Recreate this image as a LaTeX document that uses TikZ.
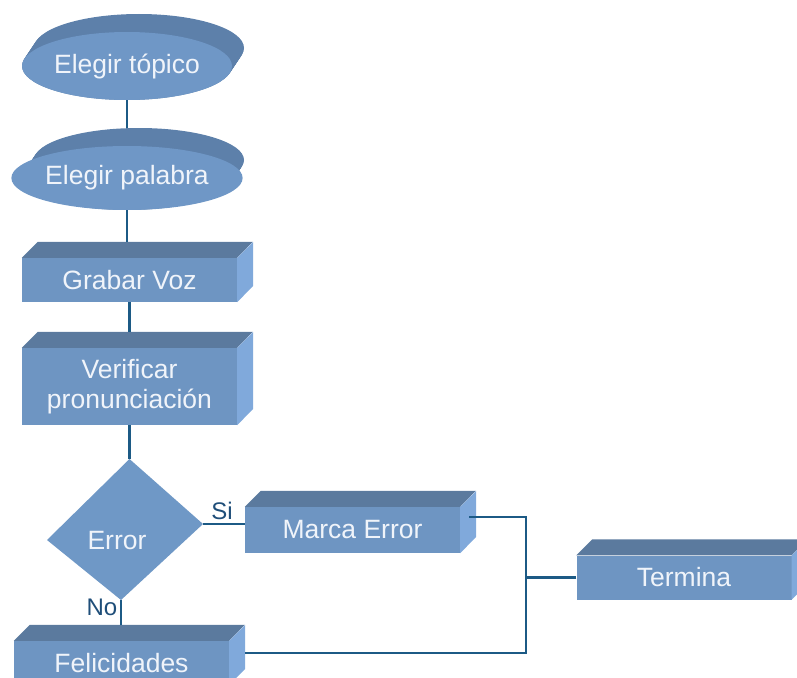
\documentclass[tikz,border=0pt]{standalone}
\usepackage{fontspec}
\setmainfont{Liberation Sans}
\usetikzlibrary{calc,shapes.geometric}
\definecolor{front}{HTML}{6E95C2}
\definecolor{topc}{HTML}{5B7A9E}
\definecolor{sidec}{HTML}{80A9DB}
\definecolor{efront}{HTML}{6F97C6}
\definecolor{erim}{HTML}{5D80AA}
\definecolor{dfill}{HTML}{6F98C6}
\definecolor{txt}{HTML}{F0F4FA}
\definecolor{connc}{HTML}{1C5A85}
\definecolor{labc}{HTML}{1F4E79}
\newcommand{\cubefaces}[2]{%
  \fill[topc] (#1.north west) -- ++(16,-16) -- ++(215,0) -- (#1.north east) -- cycle;
  \fill[sidec] (#1.north east) -- ++(16,-16) -- ++(0,#2) -- (#1.south east) -- cycle;}
\begin{document}
\begin{tikzpicture}[x=1pt,y=-1pt,
  lbl/.style={text=txt, font=\fontsize{26.5}{30}\selectfont, align=center},
  box/.style={rectangle, fill=front, minimum width=215pt, inner sep=0pt, lbl},
  ell/.style={ellipse, fill=efront, minimum width=210pt, inner sep=0pt, lbl},
  conn/.style={draw=connc, line width=2.5pt},
  yn/.style={text=labc, font=\fontsize{24}{24}\selectfont, inner sep=0pt}]
\useasboundingbox (0,0) rectangle (797,677);
\clip (0,0) rectangle (797,677);
% ellipses (extruded)
\foreach \k in {0,...,18} \fill[erim] ({127+0.667*\k},{66-\k}) ellipse [x radius=105, y radius=34];
\node[ell, minimum height=68pt] (e1) at (127,66) {Elegir tópico};
\foreach \k in {0,...,18} \fill[erim] ({127+0.667*\k},{178-\k}) ellipse [x radius=105, y radius=32];
\node[ell, minimum height=64pt] (e2) at (127,178) {Elegir palabra};
% boxes
\node[box, minimum height=44pt] (grabar) at (129.5,280) {Grabar Voz};
\cubefaces{grabar}{44}
\node[box, minimum height=77pt] (verif) at (129.5,386.5) {Verificar\\pronunciación};
\cubefaces{verif}{77}
\node[box, minimum height=46pt] (marca) at (352.5,530) {Marca Error};
\cubefaces{marca}{46}
\node[box, minimum height=44pt] (termina) at (684,577.5) {Termina};
\cubefaces{termina}{44}
\node[box, minimum height=44pt] (felic) at (121.5,663) {Felicidades};
\cubefaces{felic}{44}
% diamond
\coordinate (dT) at (129.5,459);
\coordinate (dR) at (203,524);
\coordinate (dB) at (121,600);
\coordinate (dL) at (47,540);
\fill[dfill] (dT) -- (dR) -- (dB) -- (dL) -- cycle;
\node[lbl] (error) at (117,541) {Error};
% helper coordinates
\coordinate (e2top) at (139,128);
\coordinate (gtop) at ($(grabar.north)+(0,-16)$);
\coordinate (vtop) at ($(verif.north)+(0,-16)$);
\coordinate (ftop) at ($(felic.north)+(0,-16)$);
\coordinate (ms) at ($(marca.east)+(9,-13)$);
\coordinate (fs) at ($(felic.east)+(16,-10)$);
\coordinate (jx) at (526,580);
% connectors
\draw[conn] (e1.south) -- (e1.south |- e2top);
\draw[conn] (e2.south) -- (e2.south |- gtop);
\draw[conn] (grabar.south) -- (grabar.south |- vtop);
\draw[conn] (verif.south) -- (dT);
\draw[conn] (dR) -- (dR -| marca.west);
\draw[conn] (dB) -- (dB |- ftop);
\draw[conn] (ms) -| (jx |- fs) -- (fs);
\draw[conn] (termina.west) -- (termina.west -| jx);
% labels
\node[yn] (si) at (222,511) {Si};
\node[yn] (no) at (102,607) {No};
\end{tikzpicture}
\end{document}
